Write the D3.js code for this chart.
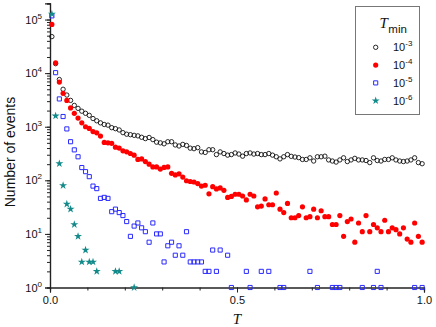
<!DOCTYPE html>
<html>
<head>
<meta charset="utf-8">
<script src="https://cdn.jsdelivr.net/npm/d3@7"></script>
<style>
  body { margin: 0; background: #fff; }
  svg { display: block; font-family: "Liberation Sans", Arial, sans-serif; }
</style>
</head>
<body>
<div id="chart"></div>
<script>
// bins of width 0.01 in T, value plotted at the bin centre
var binWidth = 0.01;
var xTickLabels = ["0.0", "0.5", "1.0"];
var legendExponents = ["-3", "-4", "-5", "-6"];

// Tmin = 1e-3 (open black circles)
var countsE3 = [48000, 15000, 7600, 5000, 3900, 3100, 2500, 2200, 1950, 1780,
    1630, 1420, 1290, 1180, 1100, 1070, 960, 920, 870, 775,
    725, 710, 690, 675, 635, 600, 630, 575, 515, 500,
    480, 525, 525, 457, 437, 468, 447, 398, 389, 407,
    339, 331, 372, 372, 302, 339, 316, 295, 302, 324,
    309, 282, 316, 324, 309, 316, 302, 302, 316, 295,
    275, 251, 275, 302, 280, 272, 265, 245, 245, 263,
    229, 275, 275, 282, 240, 229, 219, 240, 263, 224,
    240, 257, 240, 240, 234, 214, 263, 234, 229, 245,
    245, 263, 240, 229, 224, 229, 240, 263, 214, 204];

// Tmin = 1e-4 (red dots)
var countsE4 = [81000, 15500, 6800, 4200, 3100, 2240, 1780, 1450, 1180, 1000,
    930, 810, 770, 670, 510, 500, 490, 415, 400, 355,
    340, 316, 295, 245, 251, 224, 200, 178, 178, 162,
    174, 178, 135, 126, 132, 115, 98, 95, 93, 87,
    78, 81, 56, 76, 69, 72, 65, 48, 50, 55,
    55, 51, 43, 55, 51, 32, 33, 45, 35, 35,
    58, 29, 25, 37, 20, 20, 22, 32, 20, 21,
    29, 20, 27, 21, 21, 15, 15, 22, 9, 17,
    19, 7, 16, 11, 22, 11, 15, 13, 11, 18,
    11, 13, 12, 10, 13, 8, 7, 16, 9, 7];

// Tmin = 1e-5 (open blue squares), null = empty bin
var countsE5 = [117000, 10200, 3300, 1550, 910, 525, 370, 275, 173, 145,
    117, 78, 70, 46, 48, 46, 26, 29, 25, 22,
    17, 9, 14, 16, 13, 11, 7, 16, 10, 10,
    3, 6, 7, 4, 6, 4, 11, 3, 3, 3,
    3, 2, 2, 5, 2, 5, null, 4, 1, null,
    null, null, 2, 1, null, null, 2, null, 2, null,
    null, 1, 1, null, null, null, null, null, null, 2,
    null, 1, null, null, null, 1, 1, 1, null, null,
    null, null, null, 1, null, null, 1, 2, 1, null,
    null, null, null, null, null, null, null, 1, null, 1];

// Tmin = 1e-6 (teal stars)
var countsE6 = [127000, 1590, 205, 80, 36, 29, 15, 9, 3, 5,
    3, 3, 2, null, null, null, null, 2, 2, null,
    null, null, 1];

var width = 436;
var height = 327;

var svg = d3.select("#chart")
    .append("svg")
    .attr("width", width)
    .attr("height", height);

var x = d3.scaleLinear().domain([0, 1]).range([50, 424]);
var y = d3.scaleLog().domain([1, 2e5]).range([287.5, 3.4]);

// x axis: minor ticks every 0.1, major at 0, 0.5, 1
var xAxisG = svg.append("g").attr("transform", "translate(0," + y(1) + ")");
xAxisG.call(d3.axisBottom(x).tickValues(d3.range(0, 1.001, 0.1)).tickSize(3).tickFormat(""));
xAxisG.append("g").call(d3.axisBottom(x).tickValues([0, 0.5, 1]).tickSize(5).tickFormat(function (d, i) {
    return xTickLabels[i];
}));
xAxisG.selectAll(".domain").attr("stroke", "#222").attr("stroke-width", 1.2);
xAxisG.selectAll(".tick line").attr("stroke", "#222");
xAxisG.selectAll(".tick text")
    .attr("y", 9)
    .attr("font-size", 11)
    .attr("font-family", "Liberation Sans, Arial, sans-serif")
    .attr("fill", "#111");

// y axis: log, minor ticks 2..9 of each decade
var yAxisG = svg.append("g").attr("transform", "translate(" + x(0) + ",0)");
yAxisG.call(d3.axisLeft(y).tickValues(y.ticks()).tickSize(3).tickFormat(""));
var majors = [1, 10, 100, 1000, 10000, 100000];
yAxisG.append("g").call(d3.axisLeft(y).tickValues(majors).tickSize(5).tickFormat(""));
yAxisG.selectAll(".domain").attr("stroke", "#222").attr("stroke-width", 1.2);
yAxisG.selectAll(".tick line").attr("stroke", "#222");

var yLabels = svg.append("g")
    .attr("font-size", 11)
    .attr("fill", "#111")
    .attr("text-anchor", "end");
majors.forEach(function (m) {
    var t = yLabels.append("text")
        .attr("x", 42)
        .attr("y", y(m) + 4);
    t.append("tspan").text("10");
    t.append("tspan")
        .attr("font-size", 8)
        .attr("dy", -5)
        .text(Math.round(Math.log10(m)));
});

// axis titles
svg.append("text")
    .attr("transform", "translate(15,152) rotate(-90)")
    .attr("text-anchor", "middle")
    .attr("font-size", 14)
    .attr("fill", "#111")
    .text("Number of events");

svg.append("text")
    .attr("x", x(0.5))
    .attr("y", 324)
    .attr("text-anchor", "middle")
    .attr("font-family", "Liberation Serif, Times New Roman, serif")
    .attr("font-style", "italic")
    .attr("font-size", 15)
    .attr("fill", "#111")
    .text("T");

function toPoints(counts) {
    var pts = [];
    counts.forEach(function (c, i) {
        if (c !== null && c !== undefined) pts.push({t: binWidth * (i + 0.5), n: c});
    });
    return pts;
}

var seriesList = [
    {counts: countsE3, symbol: d3.symbolCircle, size: 15, fill: "none", stroke: "#111", sw: 0.9},
    {counts: countsE4, symbol: d3.symbolCircle, size: 21, fill: "#ff0000", stroke: "none", sw: 0},
    {counts: countsE5, symbol: d3.symbolSquare, size: 17, fill: "none", stroke: "#2a2aff", sw: 1},
    {counts: countsE6, symbol: d3.symbolStar, size: 20, fill: "#138a8a", stroke: "none", sw: 0}
];

seriesList.forEach(function (s) {
    var sym = d3.symbol().type(s.symbol).size(s.size);
    svg.append("g")
        .selectAll("path")
        .data(toPoints(s.counts))
        .enter()
        .append("path")
        .attr("d", sym)
        .attr("transform", function (d) {
            return "translate(" + x(d.t) + "," + y(d.n) + ")";
        })
        .attr("fill", s.fill)
        .attr("stroke", s.stroke)
        .attr("stroke-width", s.sw);
});

// legend
var legend = svg.append("g");
legend.append("rect")
    .attr("x", 355.5)
    .attr("y", 6.5)
    .attr("width", 64)
    .attr("height", 108)
    .attr("fill", "#fff")
    .attr("stroke", "#777")
    .attr("stroke-width", 1);

var title = legend.append("text").attr("x", 379.5).attr("y", 28.3).attr("fill", "#111");
title.append("tspan")
    .attr("font-family", "Liberation Serif, Times New Roman, serif")
    .attr("font-style", "italic")
    .attr("font-size", 15)
    .text("T");
title.append("tspan")
    .attr("font-size", 11.5)
    .attr("dy", 4.4)
    .attr("dx", 0.5)
    .text("min");

seriesList.forEach(function (s, i) {
    var ly = 47.3 + 17.8 * i;
    legend.append("path")
        .attr("d", d3.symbol().type(s.symbol).size(s.size))
        .attr("transform", "translate(375.7," + ly + ")")
        .attr("fill", s.fill)
        .attr("stroke", s.stroke)
        .attr("stroke-width", s.sw);
    var t = legend.append("text")
        .attr("x", 393)
        .attr("y", ly + 4)
        .attr("font-size", 11)
        .attr("fill", "#111");
    t.append("tspan").text("10");
    t.append("tspan")
        .attr("font-size", 8)
        .attr("dy", -5)
        .text(legendExponents[i]);
});
</script>
</body>
</html>
